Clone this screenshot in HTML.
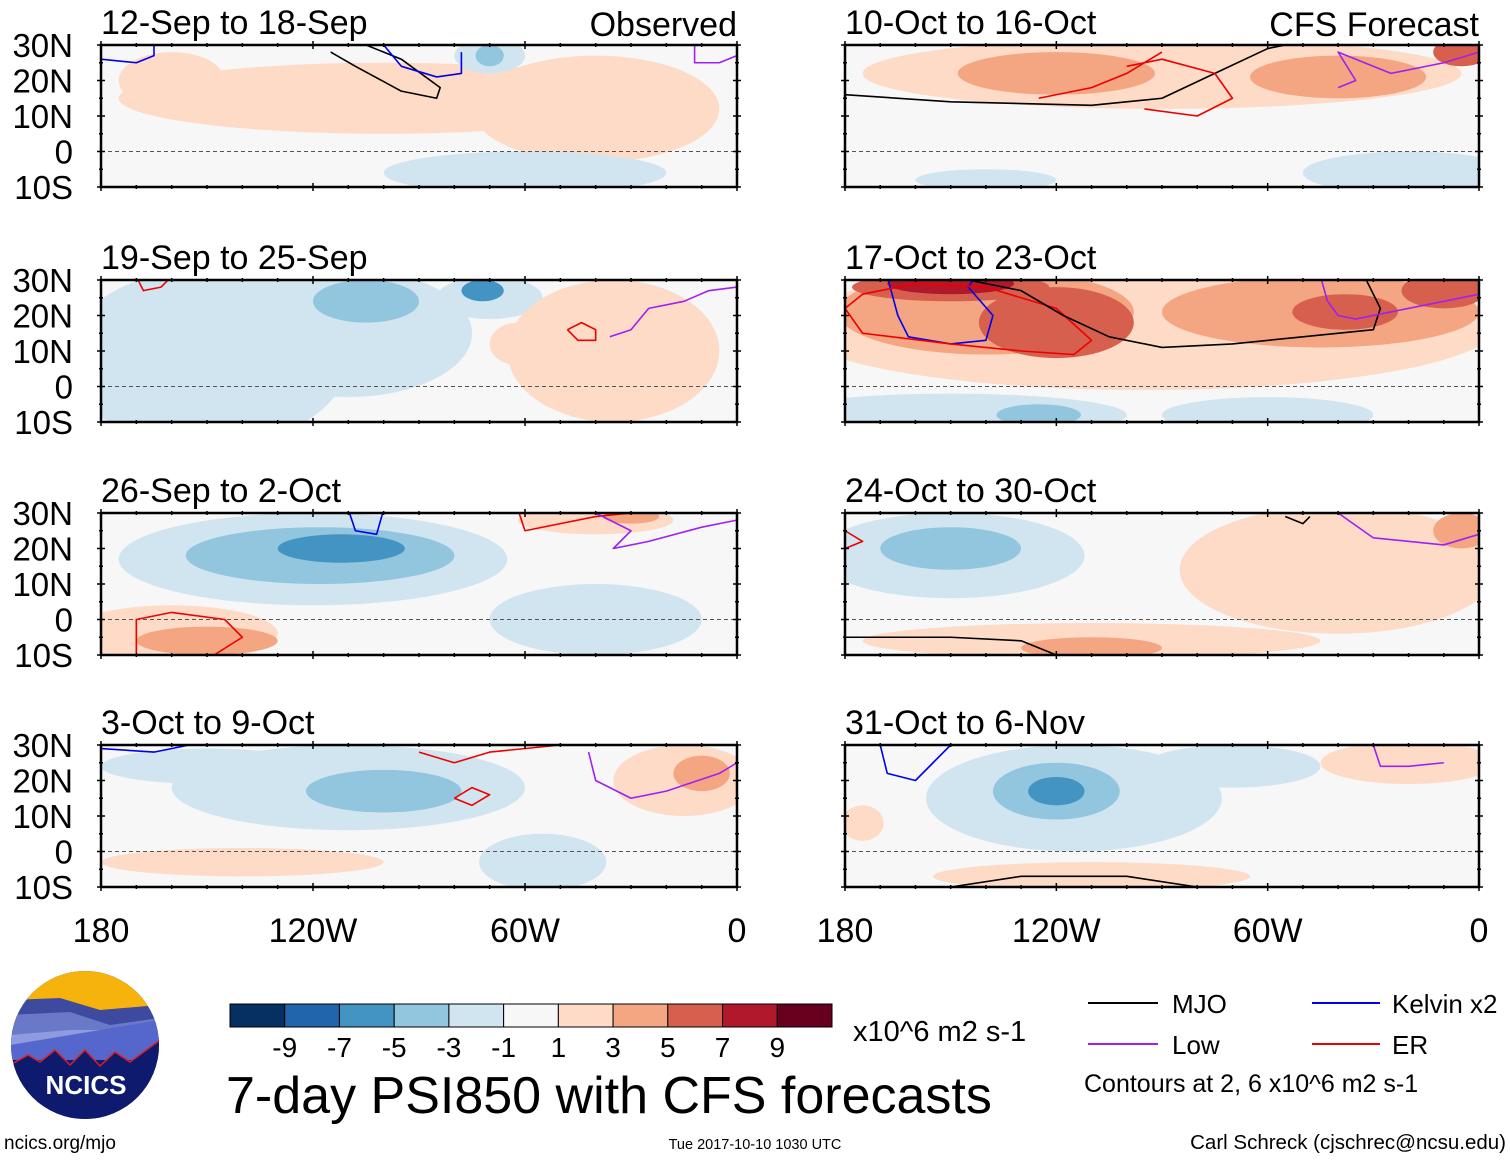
<!DOCTYPE html>
<html><head><meta charset="utf-8">
<style>
html,body{margin:0;padding:0;background:#fff;}
body{width:1510px;height:1159px;overflow:hidden;font-family:"Liberation Sans",sans-serif;}
svg text{font-family:"Liberation Sans",sans-serif;}
</style></head>
<body>
<svg id="chart" width="1510" height="1159" viewBox="0 0 1510 1159" xmlns="http://www.w3.org/2000/svg">
<g id="panels"></g>
<g>
<circle cx="85" cy="1045" r="74" fill="#0d1a6e"/>
<clipPath id="lc"><circle cx="85" cy="1045" r="74"/></clipPath>
<g clip-path="url(#lc)">
<rect x="10" y="970" width="150" height="40" fill="#f5b30c"/>
<path d="M10 1000 L60 998 L100 1010 L160 1005 L160 1040 L10 1040Z" fill="#3e4aa0"/>
<path d="M10 1015 L70 1012 L110 1025 L160 1018 L160 1050 L10 1050Z" fill="#6a78c8"/>
<path d="M10 1035 L70 1030 L160 1030 L160 1060 L10 1060Z" fill="#8f9be0"/>
<path d="M10 1045 L160 1020 L160 1060 L10 1060Z" fill="#5566cc"/>
<path d="M10 1065 L28 1055 L40 1062 L55 1050 L70 1065 L85 1050 L100 1066 L115 1052 L130 1062 L160 1040 L160 1120 L10 1120Z" fill="#0d1a6e" stroke="#e02020" stroke-width="1.5"/>
</g>
<text x="86" y="1094" font-size="26" font-weight="bold" fill="#fff" text-anchor="middle">NCICS</text>
</g>
<text x="4" y="1149" font-size="19">ncics.org/mjo</text>
<text x="755" y="1149" font-size="14.5" text-anchor="middle">Tue 2017-10-10 1030 UTC</text>
<text x="1506" y="1149" font-size="20.5" text-anchor="end">Carl Schreck (cjschrec@ncsu.edu)</text>
<text x="226" y="1113" font-size="52">7-day PSI850 with CFS forecasts</text>
<g id="cbar"></g>
<text x="853" y="1041" font-size="29">x10^6 m2 s-1</text>
<g>
<line x1="1088" y1="1003" x2="1158" y2="1003" stroke="#000" stroke-width="2"/>
<text x="1172" y="1013" font-size="26">MJO</text>
<line x1="1312" y1="1003" x2="1380" y2="1003" stroke="#0000ee" stroke-width="2"/>
<text x="1392" y="1013" font-size="26">Kelvin x2</text>
<line x1="1088" y1="1044" x2="1158" y2="1044" stroke="#a020f0" stroke-width="2"/>
<text x="1172" y="1054" font-size="26">Low</text>
<line x1="1312" y1="1044" x2="1380" y2="1044" stroke="#ee0000" stroke-width="2"/>
<text x="1392" y="1054" font-size="26">ER</text>
<text x="1084" y="1092" font-size="25">Contours at 2, 6 x10^6 m2 s-1</text>
</g>
</svg>
<script>
const NS="http://www.w3.org/2000/svg";
const levelColors=["#053061","#2166ac","#4393c3","#92c5de","#d1e5f0","#f7f7f7","#fddbc7","#f4a582","#d6604d","#b2182b","#67001f"];
const cbarLabels=["-9","-7","-5","-3","-1","1","3","5","7","9"];
const panelTitles=["12-Sep to 18-Sep","19-Sep to 25-Sep","26-Sep to 2-Oct","3-Oct to 9-Oct","10-Oct to 16-Oct","17-Oct to 23-Oct","24-Oct to 30-Oct","31-Oct to 6-Nov"];
const latLabels=["30N","20N","10N","0","10S"];
const lonLabels=["180","120W","60W","0"];
// blobs: [lonW, lat, rxDeg, ryDeg, level(-4..4)]
const blobs0=[[100,15,75,10,1],[40,12,35,15,1],[160,20,15,8,1],[60,-6,40,6,-1],[70,27,10,5,-1],[70,27,4,3,-2]];
const blobs1=[[150,8,40,25,-1],[110,15,35,18,-1],[105,24,15,6,-2],[72,27,6,3,-3],[70,25,15,6,-1],[35,10,30,20,1],[62,12,8,6,1]];
const blobs2=[[120,17,55,13,-1],[118,18,38,8,-2],[112,20,18,4,-3],[160,-4,30,8,1],[150,-6,20,4,2],[40,0,30,10,-1],[40,28,22,4,1],[30,29,8,2,2]];
const blobs3=[[110,18,50,12,-1],[100,17,22,6,-2],[140,-3,40,4,1],[15,20,20,10,1],[10,22,8,5,2],[55,-3,18,8,-1],[150,24,30,5,-1]];
const blobs4=[[90,22,85,10,1],[120,22,28,6,2],[40,21,25,6,2],[5,28,8,4,3],[20,-6,30,6,-1],[140,-8,20,3,-1]];
const blobs5=[[95,17,100,18,1],[150,-8,50,6,-1],[60,-8,30,5,-1],[140,21,42,12,2],[45,21,45,10,2],[120,18,22,10,3],[150,28,28,4,3],[38,21,15,5,3],[10,27,12,5,3],[150,29,18,3,4],[125,-8,12,3,-2]];
const blobs6=[[150,18,38,12,-1],[150,20,20,6,-2],[40,14,45,18,1],[110,-6,65,5,1],[110,-8,20,3,2],[5,25,8,5,2]];
const blobs7=[[115,15,42,15,-1],[120,17,18,8,-2],[120,17,8,4,-3],[110,-7,45,4,1],[175,8,6,5,1],[20,25,25,6,1],[70,24,25,6,-1]];
const allBlobs=[blobs0,blobs1,blobs2,blobs3,blobs4,blobs5,blobs6,blobs7];
const lines0=[["#000",[[115,28],[108,24],[95,17],[85,15],[84,18],[95,26],[105,30]]],["#0000ee",[[180,26],[170,25],[165,27],[165,31]]],["#0000ee",[[100,30],[95,24],[85,21],[78,22],[78,28]]],["#a020f0",[[12,31],[12,25],[5,25],[0,27]]]];
const lines1=[["#ee0000",[[170,31],[168,27],[163,28],[160,31]]],["#ee0000",[[48,16],[45,13],[40,13],[40,16],[44,18],[48,16]]],["#a020f0",[[36,14],[30,16],[25,22],[15,24],[8,27],[0,28]]]];
const lines2=[["#0000ee",[[110,31],[108,25],[102,24],[100,31]]],["#ee0000",[[170,-10],[170,0],[160,2],[145,0],[140,-5],[148,-10]]],["#ee0000",[[62,31],[60,25],[50,27],[40,29],[30,30]]],["#a020f0",[[40,30],[30,25],[35,20],[25,22],[10,26],[0,28]]]];
const lines3=[["#0000ee",[[180,29],[165,28],[155,30]]],["#ee0000",[[80,15],[75,13],[70,16],[75,18],[80,15]]],["#ee0000",[[90,28],[80,25],[70,28],[50,30]]],["#a020f0",[[42,28],[40,20],[30,15],[20,17],[5,22],[0,25]]]];
const lines4=[["#000",[[180,16],[150,14],[110,13],[90,15],[75,22],[60,29],[50,31]]],["#ee0000",[[125,15],[110,18],[100,22],[90,28]]],["#ee0000",[[95,12],[80,10],[70,15],[75,22],[90,26],[100,24]]],["#a020f0",[[40,18],[35,20],[40,28],[25,22],[10,25],[0,28]]]];
const lines5=[["#0000ee",[[168,31],[165,20],[162,14],[150,12],[140,13],[138,20],[145,28],[143,31]]],["#ee0000",[[180,22],[175,15],[150,12],[130,10],[115,9],[110,13],[120,22],[140,28],[160,29],[175,26],[180,22]]],["#000",[[150,31],[130,27],[118,20],[105,14],[90,11],[70,12],[50,14],[30,16],[28,22],[32,30]]],["#a020f0",[[45,31],[43,24],[40,20],[35,19],[25,21],[10,24],[0,26]]]];
const lines6=[["#000",[[180,-5],[150,-5],[130,-6],[120,-10]]],["#000",[[55,29],[50,27],[48,29]]],["#a020f0",[[40,30],[30,23],[10,21],[0,24]]],["#ee0000",[[180,25],[175,22],[180,20]]]];
const lines7=[["#0000ee",[[170,30],[168,22],[160,20],[155,25],[150,30]]],["#000",[[150,-10],[130,-7],[100,-7],[80,-10]]],["#a020f0",[[30,30],[28,24],[20,24],[10,25]]]];
const allLines=[lines0,lines1,lines2,lines3,lines4,lines5,lines6,lines7];

const colX=[101,845], colW=[636,634], rowY=[45,280,513,745], PH=142;
const g=document.getElementById('panels');
function el(tag,attrs,parent){const e=document.createElementNS(NS,tag);for(const k in attrs)e.setAttribute(k,attrs[k]);(parent||g).appendChild(e);return e;}
for(let p=0;p<8;p++){
  const col=p<4?0:1,row=p%4;
  const x0=colX[col],w=colW[col],y0=rowY[row];
  const xS=lon=>x0+(180-lon)/180*w;
  const yS=lat=>y0+(30-lat)/40*PH;
  const pg=el('g',{});
  
  
  const cp=el('clipPath',{id:'cp'+p},pg);
  el('rect',{x:x0,y:y0,width:w,height:PH},cp);
  el('rect',{x:x0,y:y0,width:w,height:PH,fill:'#f7f7f7'},pg);
  const fg=el('g',{'clip-path':'url(#cp'+p+')'},pg);
  const sorted=allBlobs[p].slice().sort((a,b)=>Math.abs(a[4])-Math.abs(b[4]));
  for(const b of sorted){
    const e=el('ellipse',{cx:xS(b[0]),cy:yS(b[1]),rx:b[2]/180*w,ry:b[3]/40*PH,fill:levelColors[5+b[4]]},fg);
    
    
  }
  el('line',{x1:x0,x2:x0+w,y1:yS(0),y2:yS(0),stroke:'#555','stroke-dasharray':'4,3','stroke-width':1},fg);
  for(const ln of allLines[p]){
    const pl=el('polyline',{points:ln[1].map(q=>xS(q[0])+','+yS(q[1])).join(' '),fill:'none',stroke:ln[0],'stroke-width':1.6,'stroke-linejoin':'round'},fg);
    
    
  }
  el('rect',{x:x0,y:y0,width:w,height:PH,fill:'none',stroke:'#000','stroke-width':2.5},pg);
  for(let lon=180;lon>=0;lon-=10){const mj=lon%60===0;const x=xS(lon);
    el('line',{x1:x,x2:x,y1:y0-(mj?4:2),y2:y0+(mj?4:2),stroke:'#000','stroke-width':1.5},pg);
    el('line',{x1:x,x2:x,y1:y0+PH-(mj?4:2),y2:y0+PH+(mj?4:2),stroke:'#000','stroke-width':1.5},pg);}
  for(let lat=-10;lat<=30;lat+=5){const y=yS(lat);const mj=lat%10===0;
    el('line',{x1:x0-(mj?4:2),x2:x0+(mj?4:2),y1:y,y2:y,stroke:'#000','stroke-width':1.5},pg);
    el('line',{x1:x0+w-(mj?4:2),x2:x0+w+(mj?4:2),y1:y,y2:y,stroke:'#000','stroke-width':1.5},pg);}
  const t=el('text',{x:x0,y:y0-11,'font-size':34},pg);t.textContent=panelTitles[p];
  
  
  if(col===0){latLabels.forEach((s,i)=>{const tt=el('text',{x:73,y:y0+i*PH/4+12,'font-size':33,'text-anchor':'end'},pg);tt.textContent=s;
    
    });}
  if(row===3){lonLabels.forEach((s,i)=>{const tt=el('text',{x:x0+i*w/3,y:942,'font-size':34,'text-anchor':'middle'},pg);tt.textContent=s;
    
    });}
}
const t1=el('text',{x:737,y:36,'font-size':34,'text-anchor':'end'});t1.textContent='Observed';


const t2=el('text',{x:1479,y:36,'font-size':34,'text-anchor':'end'});t2.textContent='CFS Forecast';


const cb=document.getElementById('cbar');
const bx=230,bw=602/11;
levelColors.forEach((c,i)=>{const r=el('rect',{x:bx+i*bw,y:1004,width:bw,height:23,fill:c,stroke:'#000','stroke-width':1},cb);
  
  });
cbarLabels.forEach((s,i)=>{const tt=el('text',{x:bx+(i+1)*bw,y:1057,'font-size':28,'text-anchor':'middle'},cb);tt.textContent=s;
  
  });
</script>
</body></html>
